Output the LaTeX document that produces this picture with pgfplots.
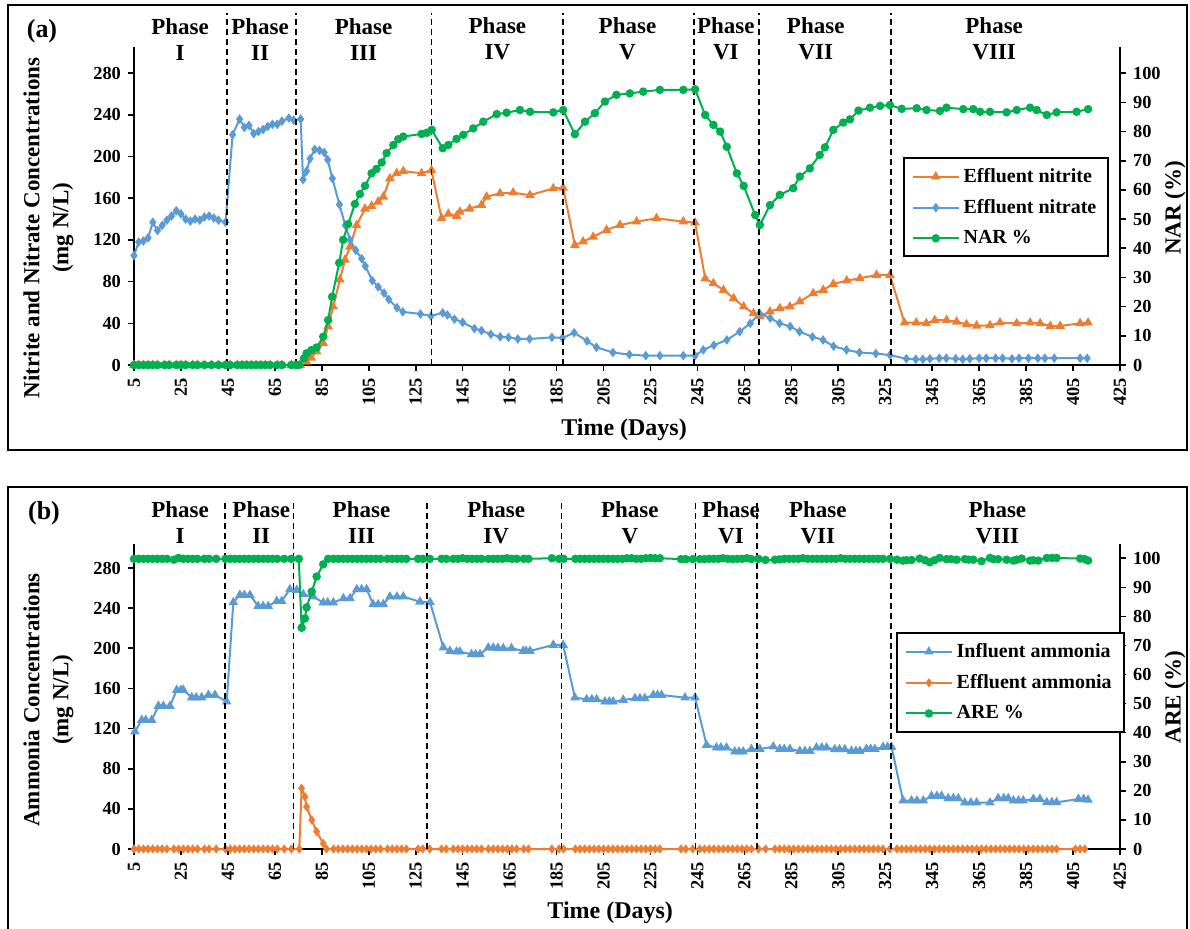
\documentclass[border=0pt]{standalone}
\usepackage{fontspec}
\setmainfont{Liberation Serif}
\usepackage{pgfplots}
\pgfplotsset{compat=1.18}
\definecolor{xorange}{HTML}{ED7D31}
\definecolor{xblue}{HTML}{5B9BD5}
\definecolor{xgreen}{HTML}{00B050}
\pgfplotsset{
  base/.style={scale only axis, width=493pt, xmin=5, xmax=425, ymin=0,
    xtick={5,25,...,425}, tick align=outside, major tick length=3pt,
    tick style={black, line width=0.8pt}, axis line style={black, line width=0.9pt},
    ticklabel style={font=\fontsize{9.2}{10}\selectfont\bfseries},
    /pgf/number format/assume math mode=true, clip=false},
  mainax/.style={base, axis x line*=bottom, axis y line*=left, ytick={0,40,...,280},
    xticklabel style={rotate=90, anchor=east},
    xlabel style={anchor=center, font=\fontsize{12}{14}\selectfont\bfseries},
    ylabel style={anchor=center, align=center, font=\fontsize{11.5}{14.5}\selectfont\bfseries}},
  secax/.style={base, axis y line*=right, axis x line=none, ytick={0,10,...,100},
    ylabel style={anchor=center, rotate=0, font=\fontsize{11.5}{14}\selectfont\bfseries},
    legend style={draw=black, line width=1pt, font=\fontsize{10}{12}\selectfont\bfseries,
      row sep=3pt, inner xsep=4pt, inner ysep=3pt, anchor=north west, cells={anchor=west}},
    legend image code/.code={\draw[mark repeat=2,mark phase=2] plot coordinates {(0cm,0cm)(0.4cm,0cm)(0.8cm,0cm)};}},
  sor/.style={color=xorange, line width=1pt, mark=triangle*, mark size=1.8pt, mark options={solid}},
  sbl/.style={color=xblue, line width=1pt, mark=diamond*, mark size=1.6pt, mark options={solid}},
  sgr/.style={color=xgreen, line width=1pt, mark=*, mark size=1.6pt, mark options={solid}},
  sbltri/.style={color=xblue, line width=1pt, mark=triangle*, mark size=1.8pt, mark options={solid}},
  sordia/.style={color=xorange, line width=1pt, mark=diamond*, mark size=1.5pt, mark options={solid}},
}
\newcommand\phaselab[3]{\node[align=center, font=\fontsize{11.5}{13}\selectfont\bfseries] at (axis cs:#1,#2) {Phase\\#3};}
\newcommand\phaseline[2]{\draw[black, line width=0.9pt, dash pattern=on 3pt off 2pt] (axis cs:#1,0) -- (axis cs:#1,#2);}
\begin{document}
\begin{tikzpicture}
\useasboundingbox (0,0) rectangle (595pt,464pt);
% ---------------- Panel (a) ----------------
\begin{axis}[mainax, at={(67pt,281.5pt)}, anchor=south west, height=159pt, ymax=305.2,
  xlabel={Time (Days)}, xlabel style={at={(axis description cs:0.497,-0.204)}},
  ylabel={Nitrite and Nitrate Concentrations\\(mg N/L)}, ylabel style={at={(axis description cs:-0.0867,0.431)}}]
\addplot[sor] coordinates {
(5,0)(7,0)(9,0)(11,0)(13,0)(15,0)(18,0)(20,0)(23,0)(25,0)(27,0)(30,0)(32,0)(35,0)(38,0)(41,0)(44,0)
(46,0)(49,0)(51,0)(53,0)(55,0)(57,0)(59,0)(61,0)(63,0)(66,0)(68,0)(72,0)(74,0)
(75.7,0)(78.5,3)(80.5,7)(82.8,12.8)(85.6,21)(87.7,37)(89.9,56)(92.7,82)(94.9,101)(97,113.5)(99.8,134)(103.4,150)(106.2,152.6)(109,156.7)(111.2,161.5)(114,179)(116.9,184)(119.7,186)(127.5,184)(131.7,187)
(136,141)(138.9,145)(142.4,143)(143.8,147)(148,150)(153,153.5)(155.2,161.5)(160.9,164.7)(166.5,165.4)(173.7,163)(183.6,169.5)(187.8,170)
(192.8,115)(196.3,118.4)(200.6,123)(206.3,129.6)(212,134.4)(219.1,137.6)(227.6,140.8)(239,137.6)(244,136.6)
(248.3,83)(251.8,78.4)(256.1,72)(260.4,64)(264.7,56)(268.9,49.6)(271.6,47)
(275.9,51.2)(280.1,54.4)(284.4,56)(288.6,60.8)(294.3,68.8)(298.6,72)(302.9,77.7)(308.6,81)(314.2,83.2)(321.3,86.4)(327,86.4)
(333.2,40.6)(338.2,40.6)(342.5,40)(346.1,43)(351.1,43)(355.4,41.5)(359.6,39)(363.9,37.7)(369.6,38)(373.9,40.6)(381,40)(386.7,40.6)(391,40)(395.3,37.4)(399.5,37.4)(408,40)(411.4,40.6)
};
\addplot[sbl] coordinates {
(5,105)(7,118)(9,119)(11,122)(13,137)(15,129)(17,134)(19,139)(21,143)(23,148)(25,145)(27,140)(29,138)(31,140)(33,139)(35,142)(37,143)(39,141)(41,139)(44,137)
(47,221)(50,236)(52,228)(54,230)(56,222)(58,224)(60,226)(62,229)(64,231)(66,231)(68,234)(71,237)(73,235)(76,236)
(77,178)(78.5,186)(80,198)(82,207)(84,206)(86,204)(87.5,197)(89.5,179)(92.5,154)(95,134)(97,120)(99.5,110)(102,102)(103.5,95)(106.5,81)(109,75)(111.5,69)(113.5,63)(117,55)(119.5,51)(127,49)(131.5,47)
(136.5,50)(138.5,48)(141.5,44)(145,41)(150,35)(153,33)(157,29.5)(161,27)(164.5,26.5)(168.5,25)(173.5,25)(183,26.5)(187.5,26)
(192.5,31)(198,23)(202,17)(209,12)(216,10)(223,9)(229,9)(239,9)(244,9)
(247.5,14.5)(252,19)(257.5,24)(263,32)(267.5,40)(271.5,49.5)
(276,45)(280,40)(284.5,37)(288.5,32)(294,27)(298.5,24)(303,18)(308.5,14.5)(314,12)(321,11)(327,9.5)
(334,6)(338,5.5)(341,5.5)(344,6)(348,6.5)(351,6.5)(355,6)(358,5.5)(361,6)(365,6.5)(368,6.5)(372,6.5)(375,6.5)(379,6)(382,6.5)(386,6.5)(390,6.5)(393,6.5)(397,6.5)(408,6.5)(411,6.5)
};
\end{axis}
\begin{axis}[secax, at={(67pt,281.5pt)}, anchor=south west, height=159pt, ymax=109.0,
  ylabel={NAR (\%)}, ylabel style={at={(axis description cs:1.0558,0.494)}, rotate=0},
  legend style={at={(axis description cs:0.780,0.654)}}]
\addlegendimage{sor}\addlegendentry{Effluent nitrite}
\addlegendimage{sbl}\addlegendentry{Effluent nitrate}
\addplot[sgr] coordinates {
(5,0)(7,0)(9,0)(11,0)(13,0)(15,0)(18,0)(20,0)(23,0)(25,0)(27,0)(30,0)(32,0)(35,0)(38,0)(41,0)(44,0)
(46,0)(49,0)(51,0)(53,0)(55,0)(57,0)(59,0)(61,0)(63,0)(66,0)(68,0)(72,0)(74,0)
(75.3,0)(77.4,2.3)(78.5,4)(80.6,5.1)(82.8,6)(85.6,9.7)(87.7,15.4)(89.4,23.4)(92.4,35)(94.1,42.9)(96.2,48.3)(99.1,55.2)(101.2,58.6)(103.4,61.4)(106.2,65.7)(108.3,67.2)(110.5,69.4)(112.6,72.6)(115.5,75.4)(117.6,77.4)(119.7,78.3)(127.5,79.2)(129.7,79.6)(131.8,80.6)
(136.5,74.3)(138.9,75.4)(142.4,77.5)(145.3,78.9)(149.5,81.1)(153.8,83.4)(159.5,86)(163.7,86.5)(169.4,87.4)(173.7,86.8)(183.6,86.6)(187.8,87.4)
(192.8,79.1)(197.1,83.4)(201.3,86.3)(205.6,90.3)(210.5,92.6)(216.2,93.1)(221.9,93.7)(229,94.3)(239,94.3)(244,94.5)
(248.3,85.7)(251.8,82.3)(254.7,80)(257.5,74.8)(261.8,65.7)(264.7,61.4)(269.6,51.4)(271.6,48)
(275.9,54.8)(280.1,58.3)(285.8,60.6)(288.6,64.6)(292.9,67.4)(297.1,72)(299.3,74.6)(302.9,80.6)(307.1,83.1)(310,84.2)(313.6,87.2)(318.5,88.2)(322.8,88.8)(327,89.1)
(332,87.8)(338.4,88)(342.6,87.4)(348.3,87.1)(351.1,88.2)(358.2,87.7)(362.5,87.7)(365.4,86.8)(369.6,86.8)(376.7,86.6)(381,87.4)(386.7,88.2)(389.5,87.4)(393.8,85.7)(398,86.6)(406.5,86.8)(411.4,87.7)
};
\addlegendentry{NAR \%}
\phaseline{44.5}{120.8}
\phaseline{73.9}{120.8}
\phaseline{131.7}{120.8}
\phaseline{187.8}{120.8}
\phaseline{243.6}{120.8}
\phaseline{271.3}{120.8}
\phaseline{327.4}{120.8}
\phaselab{24.6}{111.7}{I}
\phaselab{58.7}{111.7}{II}
\phaselab{102.8}{111.7}{III}
\phaselab{159.8}{111.7}{IV}
\phaselab{215.2}{111.7}{V}
\phaselab{257.1}{111.7}{VI}
\phaselab{295.4}{111.7}{VII}
\phaselab{371.4}{111.7}{VIII}
\end{axis}
% ---------------- Panel (b) ----------------
\begin{axis}[mainax, at={(67pt,39.5pt)}, anchor=south west, height=152.5pt, ymax=303.9,
  xlabel={Time (Days)}, xlabel style={at={(axis description cs:0.483,-0.21)}},
  ylabel={Ammonia Concentrations\\(mg N/L)}, ylabel style={at={(axis description cs:-0.0867,0.489)}}]
\addplot[sbltri] coordinates {
(5.4,117)(8.3,128.5)(10,128.5)(12.5,128.5)(15.4,142.5)(17.5,142.5)(20.3,142.5)(23.2,158.4)(25,158.4)(26,158.4)(29.6,151)(31.5,151)(33.8,151)(36.7,153.4)(39.5,153.4)(44.5,146.8)
(47.3,245.8)(50.1,253)(52,253)(54.4,253)(57.9,242)(60,242)(62.2,242)(65.8,247)(67.9,247)(71.4,258.7)(74.3,258)
(77.1,253.7)(81.4,251.4)(85.6,245.5)(87.5,245.5)(89.9,245.5)(94.2,249.8)(97,249.8)(99.9,258.7)(102,258.7)(104.1,258.7)(106.9,243.8)(109,243.8)(111.2,243.8)(114,251.4)(117,251.4)(119.7,251.4)(126.8,246.4)(131.1,245.8)
(136.8,200.6)(139.6,197.3)(142.4,196.6)(143.8,196.6)(148.8,194)(150.5,194)(152.4,194)(155.9,200.6)(158,200.5)(160,200.3)(162.3,200)(165.8,200)(170.8,197.3)(172,197.3)(173.7,197.3)(183.6,203.3)(187.8,203.3)
(192.8,150.8)(197.8,149.1)(200,149.1)(202.1,149.1)(205.6,146.8)(207.5,146.8)(209.1,146.8)(213.4,148.5)(218.4,150.1)(220.5,150.1)(222.6,150.1)(226.2,153.4)(228,153.4)(229.7,153.4)(239.7,150.8)(244,150.8)
(248.9,103.6)(253.1,101)(255,101)(257.4,101)(260.9,97)(262.7,97)(264.5,97)(268,99.6)(271.6,99.6)
(277.3,102)(280.1,99.6)(282,99.6)(284.4,99.6)(288.6,97.6)(290.8,97.6)(292.9,97.6)(295.7,101)(298,101)(300,101)(303.5,99.3)(305.5,99.3)(307.8,99.3)(310.6,97.6)(312.5,97.6)(314.2,97.6)(317,99.6)(318.8,99.6)(320.6,99.6)(324.1,101.6)(326,101.6)(327.7,101.6)
(332.6,48.2)(336.2,48.2)(338.5,48.2)(341.2,48.2)(344.7,52.8)(347,52.8)(349,52.8)(351.8,50.5)(354,50.5)(356.1,50.5)(358.9,46.2)(361.5,46.2)(363.9,46.2)(369.6,46.2)(373.1,50.5)(375.5,50.5)(377.4,50.5)(379.6,48.2)(381.8,48.2)(383.8,48.2)(388.1,49.8)(390.9,49.8)(393.8,46.5)(396,46.5)(398,46.5)(407.3,49.8)(409.5,49.8)(411.4,48.9)
};
\addplot[sordia] coordinates {
(5,0)(7,0)(9,0)(11,0)(13,0)(15,0)(17,0)(19,0)(22,0)(24,0)(26,0)(28,0)(30,0)(32,0)(35,0)(37,0)(40,0)(44,0)
(46,0)(48,0)(50,0)(52,0)(54,0)(56,0)(58,0)(60,0)(62,0)(64,0)(66,0)(69,0)(72,0)(75.4,0)
(76.4,60.5)(77.8,52.1)(78.5,42.1)(80.7,28.9)(82.8,17.3)(85.6,5.6)(87,0)
(90,0)(92,0)(94,0)(96,0)(98,0)(100,0)(102,0)(104,0)(106,0)(108,0)(110,0)(113,0)(115,0)(117,0)(119,0)(121,0)(126,0)(128,0)(131,0)
(136,0)(138,0)(141,0)(143,0)(145,0)(147,0)(149,0)(151,0)(153,0)(156,0)(158,0)(160,0)(162,0)(164,0)(166,0)(168,0)(171,0)(173,0)(183,0)(186,0)(188,0)
(193,0)(195,0)(197,0)(199,0)(201,0)(203,0)(205,0)(207,0)(209,0)(211,0)(213,0)(215,0)(217,0)(219,0)(221,0)(223,0)(225,0)(227,0)(229,0)(238,0)(240,0)(243,0)
(246,0)(248,0)(250,0)(252,0)(254,0)(256,0)(258,0)(260,0)(262,0)(264,0)(266,0)(268,0)(271,0)
(274,0)(278,0)(280,0)(282,0)(284,0)(286,0)(288,0)(290,0)(292,0)(294,0)(296,0)(298,0)(300,0)(302,0)(304,0)(306,0)(308,0)(310,0)(312,0)(314,0)(316,0)(318,0)(320,0)(322,0)(324,0)(327,0)
(330,0)(332,0)(334,0)(336,0)(338,0)(340,0)(342,0)(344,0)(346,0)(348,0)(350,0)(352,0)(354,0)(356,0)(358,0)(360,0)(362,0)(364,0)(366,0)(368,0)(370,0)(372,0)(374,0)(376,0)(378,0)(380,0)(382,0)(384,0)(386,0)(388,0)(390,0)(392,0)(394,0)(396,0)(398,0)(406,0)(408,0)(410,0)
};
\end{axis}
\begin{axis}[secax, at={(67pt,39.5pt)}, anchor=south west, height=152.5pt, ymax=104.9,
  ylabel={ARE (\%)}, ylabel style={at={(axis description cs:1.056,0.498)}, rotate=0},
  legend style={at={(axis description cs:0.773,0.711)}}]
\addlegendimage{sbltri}\addlegendentry{Influent ammonia}
\addlegendimage{sordia}\addlegendentry{Effluent ammonia}
\addplot[sgr] coordinates {
(5,99.8)(7,99.8)(9,99.8)(11,99.8)(13,99.8)(15,99.8)(17,99.8)(19,99.8)(22,99.5)(24,100.1)(26,99.8)(28,99.8)(30,99.8)(32,99.8)(35,99.8)(37,99.8)(40,99.8)(44,99.8)
(46,99.8)(48,99.8)(50,99.8)(52,99.8)(54,99.8)(56,99.8)(58,99.8)(60,99.8)(62,99.8)(64,99.8)(66,99.8)(69,99.8)(72,99.8)(75.2,99.8)
(76.4,76.1)(77.8,79.3)(78.5,83.1)(80.7,88.5)(82.8,93.7)(85.6,97.9)(87.7,99.8)
(90,99.8)(92,99.8)(94,99.8)(96,99.8)(98,99.8)(100,99.8)(102,99.8)(104,99.8)(106,99.8)(108,99.8)(110,99.8)(113,99.8)(115,99.8)(117,99.8)(119,99.8)(121,99.8)(126,99.8)(128,99.8)(131,99.8)
(136,99.8)(138,99.8)(141,99.8)(143,99.8)(145,100)(147,99.8)(149,99.8)(151,99.8)(153,99.8)(156,99.8)(158,99.8)(160,99.8)(162,99.8)(164,100)(166,99.8)(168,99.8)(171,99.8)(173,99.8)(183,100)(186,99.8)(188,99.8)
(193,99.8)(195,99.8)(197,99.8)(199,99.8)(201,99.8)(203,99.8)(205,99.8)(207,99.8)(209,99.8)(211,99.8)(213,99.8)(215,100)(217,100)(219,99.8)(221,99.8)(223,100)(225,100.1)(227,100)(229,100)(238,99.7)(240,99.7)(243,99.7)
(246,99.7)(248,99.7)(250,99.8)(252,99.8)(254,99.8)(256,100)(258,99.8)(260,99.7)(262,99.8)(264,99.8)(266,100)(268,99.7)(271,99.8)
(274,99.4)(278,99.5)(280,99.6)(282,99.8)(284,99.8)(286,99.8)(288,99.8)(290,100)(292,99.8)(294,99.8)(296,99.8)(298,99.8)(300,99.8)(302,99.8)(304,99.8)(306,100)(308,99.8)(310,99.8)(312,99.8)(314,99.8)(316,99.8)(318,99.8)(320,99.8)(322,99.8)(324,99.8)(327,99.8)
(330,99.5)(332.6,99.2)(334,99.3)(336.2,99.4)(339.7,99.9)(342,99.3)(344,98.6)(346,99.3)(348.2,100.1)(351.1,99.7)(353,99.7)(355.4,99.5)(358.9,99.7)(360.5,99.5)(362.5,99.5)(366,99)(369.6,100.1)(371,99.7)(373.1,99.7)(376.7,99.5)(379.6,99.2)(381,99.5)(383.1,99.9)(386.7,99.2)(388,99.3)(390.2,99.2)(393.8,100.1)(396,100.1)(398,100.1)(408,99.9)(410,99.7)(411.4,99.2)
};
\addlegendentry{ARE \%}
\phaseline{43.8}{119.5}
\phaseline{72.9}{119.5}
\phaseline{129.9}{119.5}
\phaseline{187.1}{119.5}
\phaseline{244.2}{119.5}
\phaseline{270.5}{119.5}
\phaseline{327.4}{119.5}
\phaselab{24.6}{112.3}{I}
\phaselab{59.2}{112.3}{II}
\phaselab{101.9}{112.3}{III}
\phaselab{159.3}{112.3}{IV}
\phaselab{216.2}{112.3}{V}
\phaselab{259.3}{112.3}{VI}
\phaselab{296.3}{112.3}{VII}
\phaselab{372.8}{112.3}{VIII}
\end{axis}
% frames and panel letters
\draw[black, line width=1pt] (4pt,239pt) rectangle (593.5pt,461.5pt);
\draw[black, line width=1pt] (4pt,-5pt) rectangle (593.5pt,220.5pt);
\node[font=\fontsize{13}{15}\selectfont\bfseries] at (21pt,448.5pt) {(a)};
\node[font=\fontsize{13}{15}\selectfont\bfseries] at (22pt,207.5pt) {(b)};
\end{tikzpicture}
\end{document}
